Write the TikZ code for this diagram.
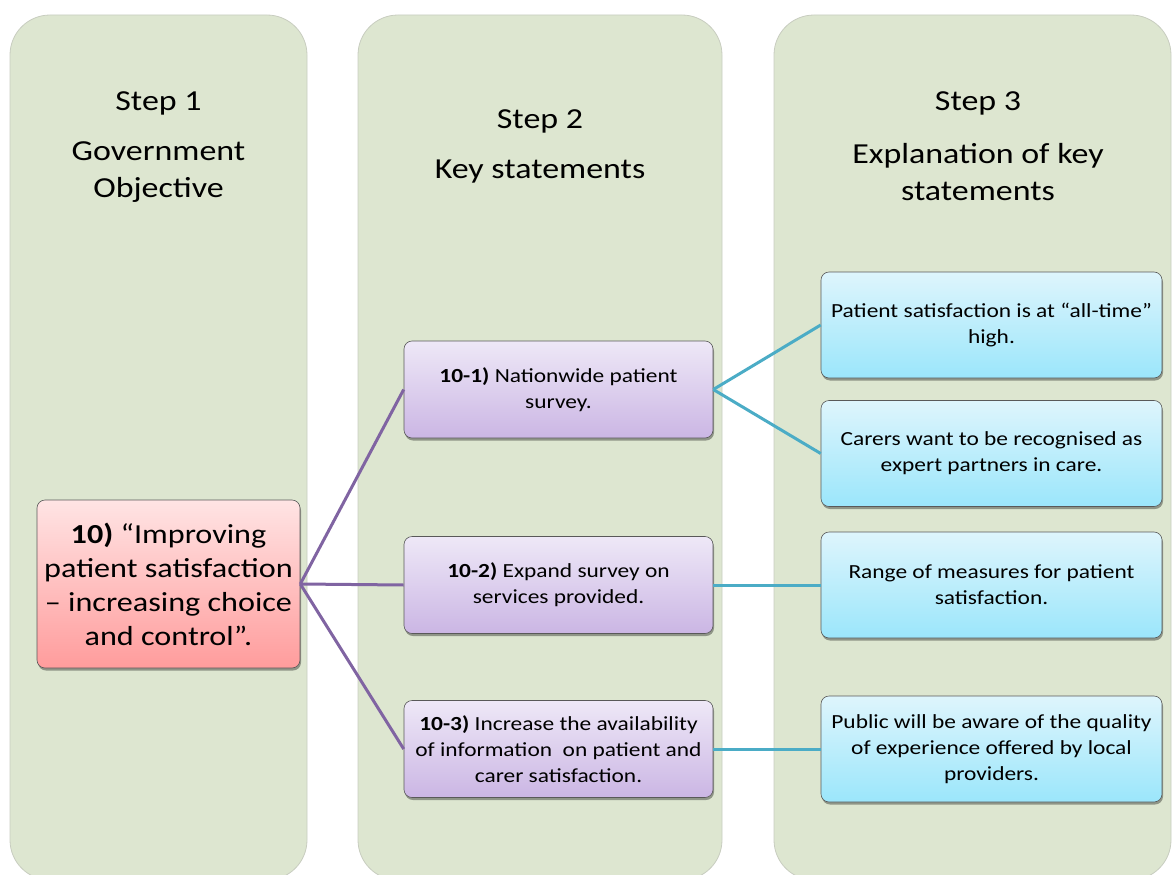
\documentclass[tikz,border=0pt]{standalone}
\usepackage{fontspec}
\setmainfont[FakeStretch=1.17]{Carlito}
\usetikzlibrary{shadows}
\definecolor{colfill}{RGB}{221,230,208}
\definecolor{coledge}{RGB}{200,205,192}
\definecolor{redtop}{RGB}{255,228,228}
\definecolor{redbot}{RGB}{255,156,156}
\definecolor{purtop}{RGB}{238,232,247}
\definecolor{purbot}{RGB}{203,182,228}
\definecolor{blutop}{RGB}{222,245,252}
\definecolor{blubot}{RGB}{155,230,251}
\definecolor{purline}{RGB}{128,100,162}
\definecolor{bluline}{RGB}{75,172,198}
\tikzset{
  column/.style={fill=colfill, draw=coledge, line width=0.8pt, rounded corners=40pt},
  headtxt/.style={font=\fontsize{29}{37}\selectfont, align=center, inner sep=0pt},
  boxbase/.style={draw=black!65, line width=0.6pt, rounded corners=8pt, inner sep=0pt,
    align=center, drop shadow={shadow xshift=1pt, shadow yshift=-2.5pt, opacity=0.35, fill=black}},
  objbox/.style={boxbase, top color=redtop, bottom color=redbot,
    minimum width=263pt, minimum height=168pt, font=\fontsize{27.5}{34}\selectfont},
  keybox/.style={boxbase, top color=purtop, bottom color=purbot,
    minimum width=309pt, minimum height=97pt, font=\fontsize{20}{26}\selectfont},
  expbox/.style={boxbase, top color=blutop, bottom color=blubot,
    minimum width=341pt, minimum height=106pt, font=\fontsize{20}{26}\selectfont},
  purlink/.style={draw=purline, line width=3pt},
  blulink/.style={draw=bluline, line width=3pt}
}
\begin{document}
\begin{tikzpicture}[x=1pt,y=1pt]
\useasboundingbox (0,0) rectangle (1173,-875);
\clip (0,0) rectangle (1173,-875);

% three column panels
\path[column] (10,-15) rectangle (307,-880);
\path[column] (358,-15) rectangle (722,-880);
\path[column] (774,-15) rectangle (1171,-880);

% column headings
\node[headtxt] (s1) at (158.5,-103) {Step 1};
\node[headtxt] (h1) at (158.5,-172) {Government\\Objective};
\node[headtxt] (s2) at (540,-121) {Step 2};
\node[headtxt] (h2) at (540,-172) {Key statements};
\node[headtxt] (s3) at (978,-103) {Step 3};
\node[headtxt] (h3) at (978,-172) {Explanation of key\\statements};

% objective
\node[objbox] (obj) at (168.5,-584) {\textbf{10)} “Improving\\patient satisfaction\\– increasing choice\\and control”.};

% key statements
\node[keybox] (k1) at (558.5,-389.5) {\textbf{10-1)} Nationwide patient\\survey.};
\node[keybox] (k2) at (558.5,-585) {\textbf{10-2)} Expand survey on\\services provided.};
\node[keybox] (k3) at (558.5,-749) {\textbf{10-3)} Increase the availability\\of information\ \ on patient and\\carer satisfaction.};

% explanations
\node[expbox] (e1) at (991.5,-325) {Patient satisfaction is at “all-time”\\high.};
\node[expbox] (e2) at (991.5,-453.5) {Carers want to be recognised as\\expert partners in care.};
\node[expbox] (e3) at (991.5,-585) {Range of measures for patient\\satisfaction.};
\node[expbox] (e4) at (991.5,-749) {Public will be aware of the quality\\of experience offered by local\\providers.};

% connectors
\draw[purlink] (obj.east) -- (k1.west);
\draw[purlink] (obj.east) -- (k2.west);
\draw[purlink] (obj.east) -- (k3.west);
\draw[blulink] (k1.east) -- (e1.west);
\draw[blulink] (k1.east) -- (e2.west);
\draw[blulink] (k2.east) -- (e3.west);
\draw[blulink] (k3.east) -- (e4.west);
\end{tikzpicture}
\end{document}
